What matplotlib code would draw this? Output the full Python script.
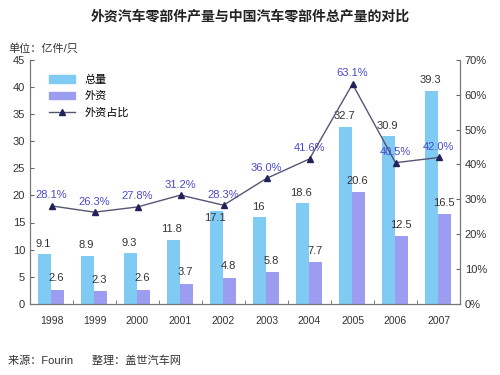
import numpy as np
import matplotlib.pyplot as plt
from matplotlib.lines import Line2D
from matplotlib.patches import Patch

plt.rcParams['font.family'] = ['Liberation Sans', 'Noto Sans CJK SC']

years = ['1998', '1999', '2000', '2001', '2002', '2003', '2004', '2005', '2006', '2007']
total = [9.1, 8.9, 9.3, 11.8, 17.1, 16, 18.6, 32.7, 30.9, 39.3]
foreign = [2.6, 2.3, 2.6, 3.7, 4.8, 5.8, 7.7, 20.6, 12.5, 16.5]
share = [28.1, 26.3, 27.8, 31.2, 28.3, 36.0, 41.6, 63.1, 40.5, 42.0]

c_total = '#7fcbf4'
c_foreign = '#9c9cf0'
c_line = '#555575'
c_pct = '#4a4ac8'

x = np.arange(len(years))
w = 0.3

fig = plt.figure(figsize=(5, 3.75), dpi=100)
ax = fig.add_axes([0.06, 0.19, 0.86, 0.65])
ax2 = ax.twinx()

ax.bar(x - 0.16, total, width=w, color=c_total, zorder=2)
ax.bar(x + 0.14, foreign, width=w, color=c_foreign, zorder=2)

for i in range(len(x)):
    if years[i] == '2002':
        # in the original this label sits on the top of the bar, under the 28.3% label
        ax.text(x[i] - 0.2, total[i] - 1.3, f'{total[i]:g}', ha='center', va='center',
                fontsize=8, color='#333333', zorder=5)
    else:
        ax.text(x[i] - 0.2, total[i] + 1.0, f'{total[i]:g}', ha='center', va='bottom',
                fontsize=8, color='#333333', zorder=5)
    ax.text(x[i] + 0.12, foreign[i] + 1.2, f'{foreign[i]:g}', ha='center', va='bottom',
            fontsize=8, color='#333333', zorder=5)

ax2.plot(x, share, color=c_line, lw=1, marker='^', markersize=5,
         markerfacecolor='#22225a', markeredgecolor='#22225a', zorder=4)
for i in range(len(x)):
    ax2.text(x[i], share[i] + 1.6, f'{share[i]:.1f}%', ha='center', va='bottom',
             fontsize=8, color=c_pct, zorder=6)

ax.set_xlim(-0.5, len(x) - 0.5)
ax.set_ylim(0, 45)
ax.set_yticks(range(0, 46, 5))
ax2.set_ylim(0, 70)
ax2.set_yticks(range(0, 71, 10))
ax2.set_yticklabels([f'{v}%' for v in range(0, 71, 10)])

ax.set_xticks(x)
ax.set_xticklabels(years)
ax.set_xticks(np.arange(-0.5, len(x), 1), minor=True)
ax.tick_params(axis='x', which='major', length=0, pad=9, labelsize=7.5, colors='#333333')
ax.tick_params(axis='x', which='minor', length=3, direction='in', color='#666666')
ax.tick_params(axis='y', direction='in', length=3, labelsize=8, colors='#333333', color='#666666')
ax2.tick_params(axis='y', direction='in', length=3, labelsize=8, colors='#333333', color='#666666')

for a in (ax, ax2):
    a.spines['top'].set_visible(False)
    for s in ('left', 'right', 'bottom'):
        a.spines[s].set_color('#777777')

handles = [Patch(color=c_total, label='总量'),
           Patch(color=c_foreign, label='外资'),
           Line2D([0], [0], color=c_line, lw=1, marker='^', markersize=5,
                  markerfacecolor='#22225a', markeredgecolor='#22225a', label='外资占比')]
ax.legend(handles=handles, loc='upper left', bbox_to_anchor=(0.02, 0.98), frameon=False,
          fontsize=8, handlelength=2.4, handleheight=0.7, labelspacing=0.55)

fig.text(0.5, 0.945, '外资汽车零部件产量与中国汽车零部件总产量的对比', ha='center',
         fontsize=10, fontweight='bold', color='#222222')
fig.text(0.016, 0.862, '单位：亿件/只', fontsize=8, color='#333333')
fig.text(0.016, 0.03, '来源：Fourin      整理：盖世汽车网', fontsize=8, color='#333333')

plt.savefig('out.png', dpi=100)
